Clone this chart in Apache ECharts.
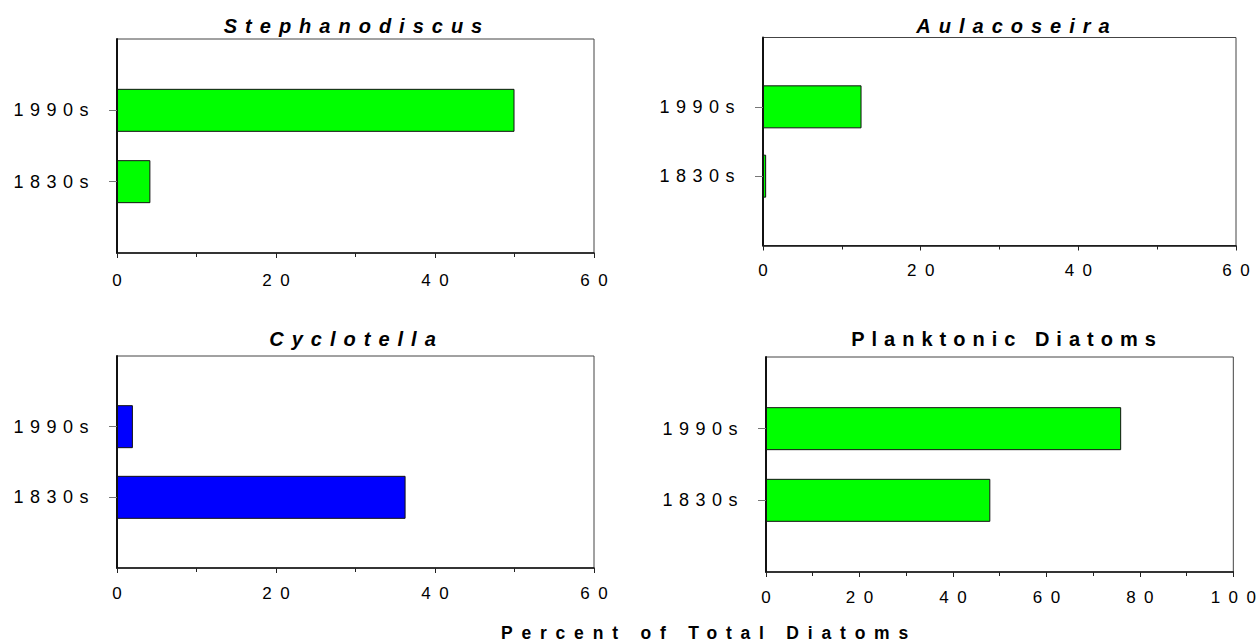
<!DOCTYPE html>
<html>
<head>
<meta charset="utf-8">
<script src="https://cdn.jsdelivr.net/npm/echarts@6/dist/echarts.min.js"></script>
<style>
  html, body { margin: 0; padding: 0; background: #fff; overflow: hidden; }
  #chart { width: 1259px; height: 642px; }
  #chart text[style*="18px"] { letter-spacing: 6.5px; }
  #chart text[style*="20px"] { letter-spacing: 7px; }
  #chart text[style*="italic"] { letter-spacing: 8px; }
  #chart text[style*="17.5px"] { letter-spacing: 8.8px; }
</style>
</head>
<body>
<div id="chart"></div>
<script>
// ---- data ----
const categories = ['1830s', '1990s'];
const stephanodiscus = [4.2, 50];
const aulacoseira = [0.4, 12.5];
const cyclotella = [36.3, 2];
const planktonic = [48, 76];
const panelTitles = ['Stephanodiscus', 'Aulacoseira', 'Cyclotella', 'Planktonic Diatoms'];
const xMaxima = [60, 60, 60, 100];
const xInterval = 20;
const axisTitle = 'Percent of Total Diatoms';

const panels = [
  { values: stephanodiscus, color: '#00ff00', italic: true, labelMargin: 18.5,
    grid: { left: 117, top: 39, width: 477, height: 214 }, titleX: 352, titleY: 11 },
  { values: aulacoseira, color: '#00ff00', italic: true, labelMargin: 16.5,
    grid: { left: 763, top: 37.5, width: 473, height: 208 }, titleX: 1012, titleY: 11 },
  { values: cyclotella, color: '#0000ff', italic: true, labelMargin: 16.5,
    grid: { left: 117, top: 356, width: 477, height: 212 }, titleX: 351.5, titleY: 324 },
  { values: planktonic, color: '#00ff00', italic: false, labelMargin: 16.5,
    grid: { left: 766, top: 357, width: 470, height: 215 }, titleX: 1002, titleY: 324 }
];

const yData = [''].concat(categories, ['']);
const FONT = '"Liberation Sans", Arial, sans-serif';
const spaced = v => String(v).split('').join('\u2002');

const option = {
  animation: false,
  backgroundColor: '#ffffff',
  title: panels.map((p, i) => ({
    text: panelTitles[i],
    left: p.titleX,
    top: p.titleY,
    textAlign: 'center',
    textStyle: { fontFamily: FONT, fontSize: 20, fontWeight: 'bold',
      fontStyle: p.italic ? 'italic' : 'normal', color: '#000' }
  })).concat([{
    text: axisTitle,
    left: 704,
    top: 619,
    textAlign: 'center',
    textStyle: { fontFamily: FONT, fontSize: 17.5, fontWeight: 'bold', color: '#000' }
  }]),
  grid: panels.map(p => Object.assign({ show: true, borderColor: '#444', borderWidth: 1,
    backgroundColor: 'transparent', containLabel: false }, p.grid)),
  xAxis: panels.map((p, i) => ({
    type: 'value', gridIndex: i, min: 0, max: xMaxima[i], interval: xInterval,
    splitLine: { show: false },
    axisLine: { show: true, lineStyle: { color: '#111', width: 1.5 } },
    axisTick: { show: true, length: 5, lineStyle: { color: '#222' } },
    minorTick: { show: true, splitNumber: 2, length: 4, lineStyle: { color: '#222' } },
    axisLabel: { fontFamily: FONT, fontSize: 17, color: '#000', margin: p.labelMargin,
      formatter: spaced }
  })),
  yAxis: panels.map((p, i) => ({
    type: 'category', gridIndex: i, data: yData, boundaryGap: false,
    axisLine: { show: true, onZero: false, lineStyle: { color: '#111', width: 2 } },
    axisTick: { show: true, length: 8, interval: (idx, val) => val !== '',
      lineStyle: { color: '#777' } },
    axisLabel: { fontFamily: FONT, fontSize: 18, color: '#000', margin: 22, interval: 0 },
    splitLine: { show: false }
  })),
  series: panels.map((p, i) => ({
    type: 'bar', xAxisIndex: i, yAxisIndex: i,
    data: [null].concat(p.values, [null]),
    barWidth: 43,
    itemStyle: { color: p.color, borderColor: '#111', borderWidth: 1 }
  }))
};

const chart = echarts.init(document.getElementById('chart'), null, { renderer: 'svg' });
chart.setOption(option);
</script>
</body>
</html>
